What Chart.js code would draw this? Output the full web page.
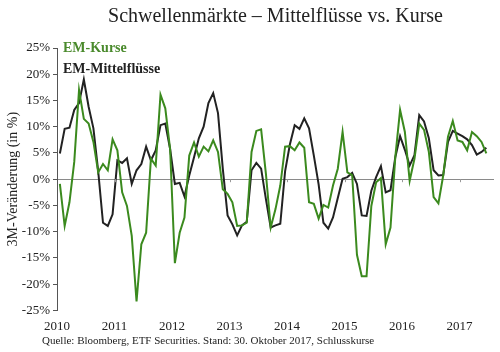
<!DOCTYPE html>
<html><head><meta charset="utf-8">
<script src="https://cdn.jsdelivr.net/npm/chart.js@4"></script>
<style>html,body{margin:0;padding:0;background:#fff}#wrap{position:relative;width:500px;height:352px}</style>
</head><body><div id="wrap"><canvas id="c"></canvas></div>
<script>
const startYear = 2010;
const titleText = 'Schwellenmärkte – Mittelflüsse vs. Kurse';
const yTitle = '3M-Veränderung (in %)';
const sourceText = 'Quelle: Bloomberg, ETF Securities. Stand: 30. Oktober 2017, Schlusskurse';
const seriesNames = ['EM-Kurse', 'EM-Mittelflüsse'];
const yearTicks = [2010, 2011, 2012, 2013, 2014, 2015, 2016, 2017];
const yTicks = [-25, -20, -15, -10, -5, 0, 5, 10, 15, 20, 25];

// monthly values, Jan 2010 onwards (3M change in %)
const emKurse = [
  -0.9, -8.9, -4.4, 3.3, 17.0, 11.5, 10.6, 7.1, 1.3, 2.9, 1.7, 7.6,
  5.5, -2.5, -5.1, -10.8, -23.3, -12.4, -10.2, 3.9, 2.6, 16.1, 13.5, 5.8,
  -16.0, -10.2, -7.3, 4.5, 7.0, 4.3, 6.2, 5.3, 7.4, 5.2, -1.9, -2.8,
  -4.4, -8.9, -8.8, -8.3, 5.2, 9.2, 9.5, 1.0, -9.2, -5.7, -1.2, 6.2,
  6.3, 5.5, 7.0, 6.0, -4.4, -4.7, -7.5, -4.9, -5.4, -1.2, 2.0, 9.0,
  1.3, 0.8, -14.4, -18.5, -18.5, -5.1, -0.6, 0.2, -12.4, -9.2, 4.2, 13.2,
  9.0, -0.3, 3.9, 10.6, 9.4, 5.2, -3.4, -4.6, 0.7, 8.1, 11.1, 7.4,
  7.1, 5.5, 9.0, 8.2, 7.1, 4.9
];
const emMittelfluesse = [
  4.9, 9.6, 9.8, 13.2, 14.5, 19.0, 13.8, 9.7, 1.5, -8.3, -8.9, -6.7,
  3.6, 3.1, 4.0, -0.9, 1.7, 2.9, 6.2, 3.6, 5.5, 10.3, 10.6, 5.8,
  -0.9, -0.7, -3.3, 0.7, 4.2, 7.8, 10.0, 14.5, 16.4, 12.6, 2.0, -6.9,
  -8.6, -10.7, -8.8, -8.1, 1.7, 3.1, 2.0, -3.8, -9.2, -8.8, -8.5, 1.5,
  6.6, 10.3, 9.6, 11.6, 9.7, 4.5, -1.0, -8.3, -9.4, -7.3, -3.6, 0.1,
  0.4, 1.2, -0.9, -6.9, -7.0, -2.2, 0.4, 2.5, -2.5, -2.1, 4.2, 8.2,
  5.6, 2.6, 4.6, 12.2, 11.0, 7.8, 1.7, 0.7, 0.8, 7.1, 9.2, 8.7,
  8.2, 7.6, 6.5, 4.7, 5.2, 6.0
];

const F = '"Liberation Serif", "Times New Roman", serif';
const GREEN = '#3b8a1e';
const GREEN_TEXT = '#4a8a2c';
const DARK = '#222222';

const toPoints = arr => arr.map((v, i) => ({ x: startYear + (i + 0.6) / 12, y: v }));

const overlay = {
  id: 'overlay',
  afterDatasetsDraw(chart) {
    const { ctx, chartArea, scales } = chart;
    ctx.save();
    const y0 = scales.y.getPixelForValue(0);
    ctx.strokeStyle = '#999';
    ctx.lineWidth = 1;
    yearTicks.forEach(yr => {
      if (yr === startYear) return;
      const x = Math.round(scales.x.getPixelForValue(yr)) + 0.5;
      ctx.beginPath(); ctx.moveTo(x, y0); ctx.lineTo(x, y0 + 3); ctx.stroke();
    });
    ctx.textBaseline = 'middle';
    ctx.textAlign = 'left';
    ctx.font = 'bold 14px ' + F;
    ctx.fillStyle = GREEN_TEXT;
    ctx.fillText(seriesNames[0], chartArea.left + 6, chartArea.top);
    ctx.fillStyle = DARK;
    ctx.fillText(seriesNames[1], chartArea.left + 6, chartArea.top + 21);
    ctx.font = '11px ' + F;
    ctx.fillStyle = DARK;
    ctx.fillText(sourceText, 42, chart.height - 11);
    ctx.restore();
  }
};

new Chart(document.getElementById('c'), {
  type: 'line',
  data: {
    datasets: [
      { label: seriesNames[0], data: toPoints(emKurse), borderColor: GREEN, backgroundColor: GREEN, borderWidth: 2, pointRadius: 0, tension: 0 },
      { label: seriesNames[1], data: toPoints(emMittelfluesse), borderColor: DARK, backgroundColor: DARK, borderWidth: 2, pointRadius: 0, tension: 0 }
    ]
  },
  options: {
    responsive: true,
    maintainAspectRatio: false,
    animation: false,
    devicePixelRatio: 1,
    layout: { padding: { left: 0, right: 6, top: 0, bottom: 10 } },
    plugins: {
      legend: { display: false },
      tooltip: { enabled: false },
      title: {
        display: true, text: titleText, fullSize: false, color: DARK,
        font: { family: F, size: 20, weight: 'normal' },
        padding: { top: 5, bottom: 19 }
      }
    },
    scales: {
      x: {
        type: 'linear', min: 2010, max: 2017.6,
        border: { display: false },
        grid: { display: false, drawTicks: false },
        ticks: { padding: 8, color: DARK, font: { family: F, size: 13 }, autoSkip: false, maxRotation: 0, callback: v => String(v) },
        afterBuildTicks: s => { s.ticks = yearTicks.map(v => ({ value: v })); }
      },
      y: {
        min: -25, max: 25,
        border: { display: true, color: '#555', width: 1 },
        grid: {
          color: c => (c.tick && c.tick.value === 0) ? '#8a8a8a' : 'rgba(0,0,0,0)',
          tickColor: '#555', tickLength: 4, lineWidth: 1
        },
        ticks: { padding: 3, color: DARK, font: { family: F, size: 13 }, callback: v => v + '%' },
        afterBuildTicks: s => { s.ticks = yTicks.map(v => ({ value: v })); },
        afterFit: s => { s.width = 57; },
        title: { display: true, text: yTitle, color: DARK, font: { family: F, size: 14 }, padding: { top: 5, bottom: 0 } }
      }
    }
  },
  plugins: [overlay]
});
</script>
</body></html>
